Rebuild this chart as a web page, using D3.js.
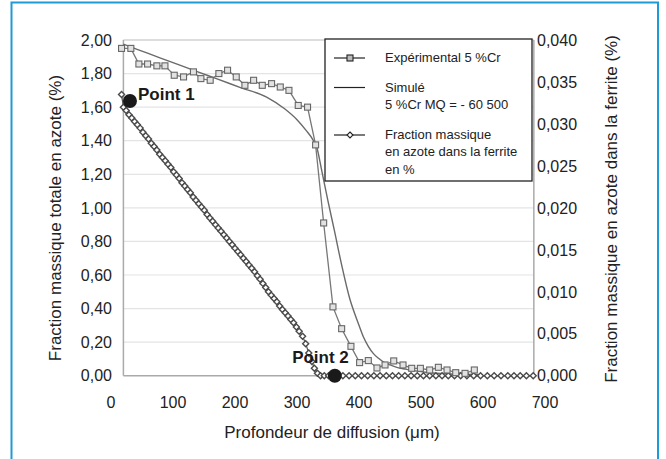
<!DOCTYPE html>
<html lang="fr">
<head>
<meta charset="UTF-8">
<title>Profil d'azote</title>
<style>
  html, body { margin: 0; padding: 0; background: #fff; }
  svg { display: block; font-family: "Liberation Sans", Arial, sans-serif; }
  .tick-lbl { font-size: 16px; fill: #222; }
  .axis-title { font-size: 17px; fill: #222; }
  .legend-txt { font-size: 13px; fill: #222; }
  .pt-lbl { font-size: 17px; font-weight: bold; fill: #1a1a1a; }
</style>
</head>
<body>
<svg id="chart" width="666" height="459"></svg>
<script src="https://cdnjs.cloudflare.com/ajax/libs/d3/7.8.5/d3.min.js"></script>
<script>
// ---- data ----
const xTicks = [0, 100, 200, 300, 400, 500, 600, 700];
const yLeftTicks = [0, 0.2, 0.4, 0.6, 0.8, 1.0, 1.2, 1.4, 1.6, 1.8, 2.0];
const yRightTicks = [0, 0.005, 0.010, 0.015, 0.020, 0.025, 0.030, 0.035, 0.040];

// Expérimental 5 %Cr : [profondeur µm, fraction totale %]
const experimental = [
  [17, 1.95], [32, 1.95], [45, 1.857], [59, 1.857], [74, 1.846], [87, 1.846],
  [102, 1.79], [117, 1.78], [133, 1.81], [145, 1.77], [160, 1.76], [174, 1.80],
  [188, 1.82], [202, 1.78], [216, 1.73], [230, 1.76], [244, 1.73], [259, 1.74],
  [273, 1.72], [287, 1.70], [302, 1.61], [317, 1.60], [330, 1.375], [343, 0.91],
  [358, 0.41], [372, 0.28], [387, 0.175], [401, 0.078], [415, 0.09], [429, 0.046],
  [442, 0.064], [456, 0.088], [471, 0.064], [485, 0.044], [499, 0.044], [514, 0.034],
  [528, 0.05], [542, 0.034], [556, 0.018], [571, 0.014], [586, 0.034]
];

// Simulé 5 %Cr MQ = -60 500
const simulated = [
  [20, 1.975], [60, 1.92], [100, 1.865], [140, 1.81], [170, 1.77], [210, 1.715],
  [251, 1.66], [280, 1.59], [300, 1.525], [315, 1.46], [325, 1.41], [332, 1.36],
  [340, 1.22], [350, 1.04], [360, 0.87], [372, 0.66], [385, 0.46], [393, 0.37],
  [400, 0.30], [407, 0.232], [415, 0.175], [423, 0.133], [431, 0.105], [439, 0.083],
  [450, 0.064], [461, 0.05], [475, 0.039], [488, 0.03], [514, 0.018], [540, 0.012],
  [568, 0.009], [600, 0.006]
];

// Fraction massique en azote dans la ferrite (%) - axe de droite
const ferrite = [
  [17, 0.0335], [20, 0.0320], [24.5, 0.0316], [29, 0.0311], [33.5, 0.0307], [38, 0.0303],
  [42.5, 0.0299], [47, 0.0295], [51.5, 0.0290], [56, 0.0286], [60.5, 0.0282], [65, 0.0277],
  [69.5, 0.0273], [74, 0.0269], [78.5, 0.0264], [83, 0.0260], [87.5, 0.0256], [92, 0.0252],
  [96.5, 0.0248], [101, 0.0243], [105.5, 0.0239], [110, 0.0235], [114.5, 0.0230], [119, 0.0226],
  [123.5, 0.0222], [128, 0.0218], [132.5, 0.0213], [137, 0.0209], [141.5, 0.0205], [146, 0.0201],
  [150.5, 0.0197], [155, 0.0192], [159.5, 0.0188], [164, 0.0184], [168.5, 0.0180], [173, 0.0176],
  [177.5, 0.0172], [182, 0.0168], [186.5, 0.0164], [191, 0.0160], [195.5, 0.0156], [200, 0.0152],
  [204.5, 0.0148], [209, 0.0144], [213.5, 0.0140], [218, 0.0136], [222.5, 0.0132], [227, 0.0128],
  [231.5, 0.0124], [236, 0.0119], [240.5, 0.0115], [245, 0.0110], [249.5, 0.0105], [254, 0.0100],
  [258.5, 0.0096], [263, 0.0092], [267.5, 0.0088], [272, 0.0083], [276.5, 0.0079], [281, 0.0075],
  [285.5, 0.0071], [290, 0.0067], [294.5, 0.0063], [299, 0.0058], [303.5, 0.0053], [309, 0.0047],
  [314, 0.0038], [319, 0.0027], [324, 0.0017], [328, 0.0009], [333, 0.0003], [338, 0],
  [344, 0], [351, 0], [358, 0], [366, 0], [374, 0], [384, 0], [394, 0], [404, 0], [414, 0],
  [424, 0], [434, 0], [444, 0], [454, 0], [464, 0], [474, 0], [484, 0], [494, 0], [504, 0],
  [514, 0], [524, 0], [534, 0], [544, 0], [554, 0], [564, 0], [574, 0], [585, 0], [596, 0],
  [607, 0], [618, 0], [629, 0], [640, 0], [650, 0], [660, 0], [670, 0], [681, 0]
];

// points repérés [profondeur, fraction totale]
const markedPoints = [
  { label: "Point 1", x: 30.6, y: 1.637 },
  { label: "Point 2", x: 361, y: 0 }
];

const legendItems = [
  { lines: ["Expérimental 5 %Cr"], kind: "square" },
  { lines: ["Simulé", "5 %Cr MQ = - 60 500"], kind: "line" },
  { lines: ["Fraction massique", "en azote dans la ferrite", "en %"], kind: "diamond" }
];

// ---- scales ----
const svg = d3.select("#chart");
const x = d3.scaleLinear().domain([0, 700]).range([111, 545]);
const yL = d3.scaleLinear().domain([0, 2]).range([375.7, 40]);
const yR = d3.scaleLinear().domain([0, 0.04]).range([375.7, 40]);
const frameX0 = x(20), frameX1 = x(682);

// outer blue frame
svg.append("path")
  .attr("d", `M11.5,459 V2.5 H658 V459`)
  .attr("fill", "none").attr("stroke", "#1e9ad6").attr("stroke-width", 2);

// gridlines
svg.append("g").selectAll("line")
  .data(yLeftTicks.filter(d => d > 0))
  .join("line")
  .attr("x1", frameX0).attr("x2", frameX1)
  .attr("y1", d => yL(d)).attr("y2", d => yL(d))
  .attr("stroke", d => d === 2 ? "#bbb" : "#e4e4e4").attr("stroke-width", 1.2);

// frame sides + baseline
svg.append("line").attr("x1", frameX0).attr("x2", frameX0).attr("y1", yL(2)).attr("y2", yL(0))
  .attr("stroke", "#aaa").attr("stroke-width", 1.5);
svg.append("line").attr("x1", frameX1).attr("x2", frameX1).attr("y1", yL(2)).attr("y2", yL(0))
  .attr("stroke", "#aaa").attr("stroke-width", 1.5);
svg.append("line").attr("x1", frameX0).attr("x2", frameX1).attr("y1", yL(0)).attr("y2", yL(0))
  .attr("stroke", "#aaa").attr("stroke-width", 1.5);

// tick labels
const fmt2 = d => d3.format(".2f")(d).replace(".", ",");
const fmt3 = d => d3.format(".3f")(d).replace(".", ",");
svg.append("g").selectAll("text").data(yLeftTicks).join("text")
  .attr("class", "tick-lbl").attr("x", 112).attr("y", d => yL(d))
  .attr("dy", "0.36em").attr("text-anchor", "end").text(fmt2);
svg.append("g").selectAll("text").data(yRightTicks).join("text")
  .attr("class", "tick-lbl").attr("x", 537).attr("y", d => yR(d))
  .attr("dy", "0.36em").attr("text-anchor", "start").text(fmt3);
svg.append("g").selectAll("text").data(xTicks).join("text")
  .attr("class", "tick-lbl").attr("x", d => x(d)).attr("y", 402)
  .attr("dy", "0.36em").attr("text-anchor", "middle").text(d => d);

// axis titles
svg.append("text").attr("class", "axis-title")
  .attr("transform", "translate(55,218) rotate(-90)")
  .attr("text-anchor", "middle").attr("dy", "0.36em")
  .text("Fraction massique totale en azote (%)");
svg.append("text").attr("class", "axis-title")
  .attr("transform", "translate(611,209) rotate(-90)")
  .attr("text-anchor", "middle").attr("dy", "0.36em")
  .text("Fraction massique en azote dans la ferrite (%)");
svg.append("text").attr("class", "axis-title")
  .attr("x", 332).attr("y", 432).attr("dy", "0.36em").attr("text-anchor", "middle")
  .text("Profondeur de diffusion (μm)");

// series lines
const lineL = d3.line().x(d => x(d[0])).y(d => yL(d[1]));
const lineR = d3.line().x(d => x(d[0])).y(d => yR(d[1]));

svg.append("path").datum(ferrite).attr("d", lineR)
  .attr("fill", "none").attr("stroke", "#555").attr("stroke-width", 1.2);
svg.append("path").datum(simulated).attr("d", d3.line().curve(d3.curveMonotoneX).x(d => x(d[0])).y(d => yL(d[1])))
  .attr("fill", "none").attr("stroke", "#6a6a6a").attr("stroke-width", 1.4);
svg.append("path").datum(experimental).attr("d", lineL)
  .attr("fill", "none").attr("stroke", "#777").attr("stroke-width", 1.3);

// diamond markers
const diamond = (cx, cy, r) => `M${cx},${cy - r}L${cx + r},${cy}L${cx},${cy + r}L${cx - r},${cy}Z`;
svg.append("g").selectAll("path").data(ferrite).join("path")
  .attr("d", d => diamond(x(d[0]), yR(d[1]), 3))
  .attr("fill", "#fff").attr("stroke", "#4a4a4a").attr("stroke-width", 1.4);

// square markers
svg.append("g").selectAll("rect").data(experimental).join("rect")
  .attr("x", d => x(d[0]) - 3).attr("y", d => yL(d[1]) - 3)
  .attr("width", 6).attr("height", 6)
  .attr("fill", "#e2e2e2").attr("stroke", "#666").attr("stroke-width", 1.1);

// marked points
svg.append("g").selectAll("circle").data(markedPoints).join("circle")
  .attr("cx", d => x(d.x)).attr("cy", d => yL(d.y)).attr("r", 7)
  .attr("fill", "#1a1a1a");
svg.append("text").attr("class", "pt-lbl")
  .attr("x", x(markedPoints[0].x) + 8).attr("y", 100).text(markedPoints[0].label);
svg.append("text").attr("class", "pt-lbl")
  .attr("x", x(markedPoints[1].x) + 14).attr("y", 363).attr("text-anchor", "end")
  .text(markedPoints[1].label);

// legend
const lg = svg.append("g");
lg.append("rect").attr("x", 325).attr("y", 39).attr("width", 207).attr("height", 142)
  .attr("fill", "#fff").attr("stroke", "#222").attr("stroke-width", 1.3);
const rowY = [58, 87.5, 135];
legendItems.forEach((it, i) => {
  const cy = rowY[i];
  lg.append("line").attr("x1", 334).attr("x2", 365).attr("y1", cy).attr("y2", cy)
    .attr("stroke", "#222").attr("stroke-width", 1.2);
  if (it.kind === "square") {
    lg.append("rect").attr("x", 347).attr("y", cy - 3).attr("width", 6).attr("height", 6)
      .attr("fill", "#bbb").attr("stroke", "#222").attr("stroke-width", 1.1);
  } else if (it.kind === "diamond") {
    lg.append("path").attr("d", diamond(350, cy, 3)).attr("fill", "#fff")
      .attr("stroke", "#222").attr("stroke-width", 1.1);
  }
  it.lines.forEach((t, j) => {
    lg.append("text").attr("class", "legend-txt")
      .attr("x", 385).attr("y", cy + 4 + j * 17.3).text(t);
  });
});
</script>
</body>
</html>
